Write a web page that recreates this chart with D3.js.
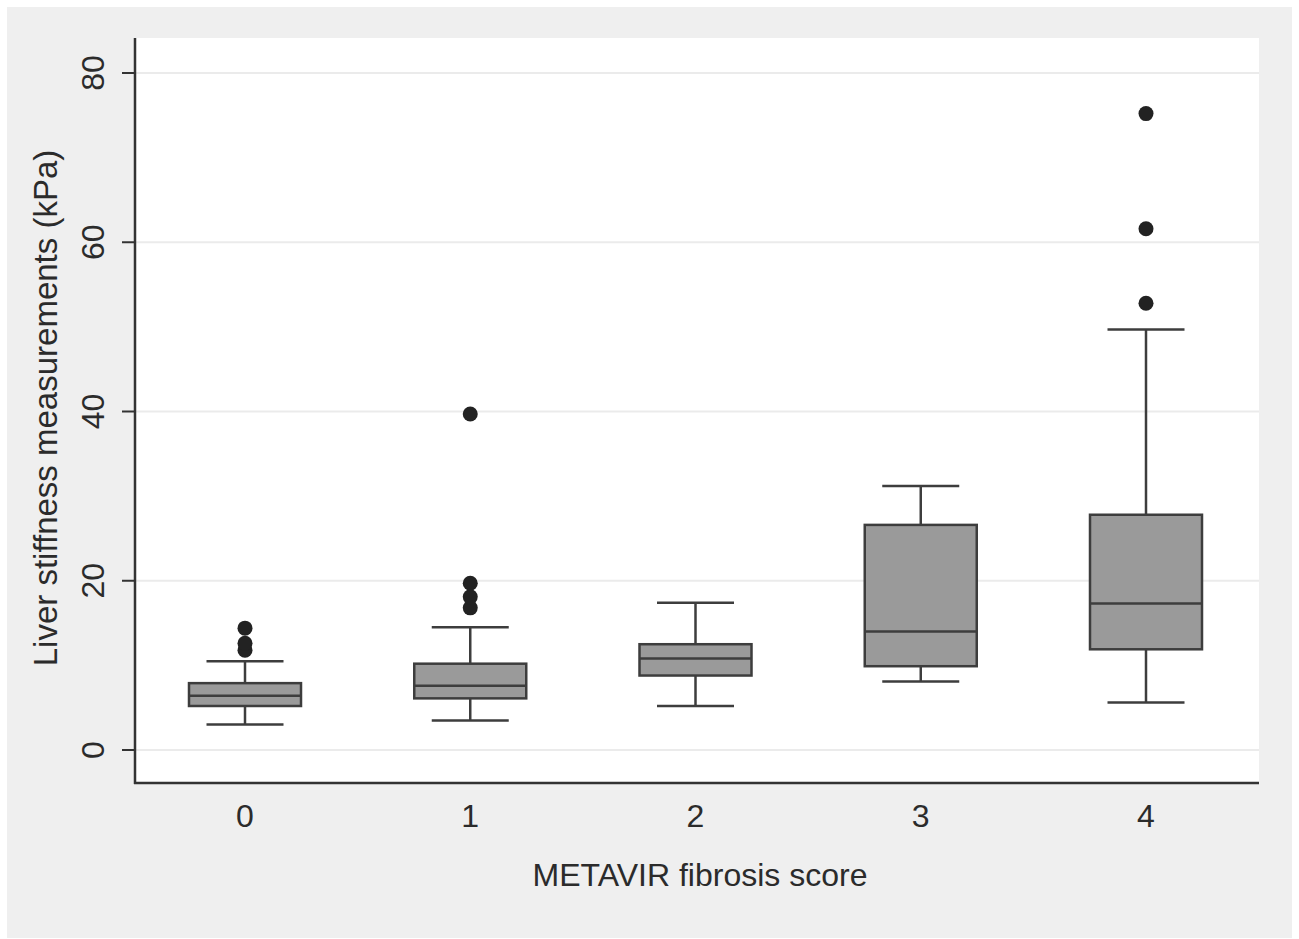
<!DOCTYPE html>
<html>
<head>
<meta charset="utf-8">
<script src="https://cdn.jsdelivr.net/npm/d3@7/dist/d3.min.js"></script>
<style>
  body { margin: 0; background: #fff; }
  text { font-family: "Liberation Sans", Arial, sans-serif; fill: #2b2b2b; }
</style>
</head>
<body>
<div id="chart"></div>
<script>
var categories = ["0", "1", "2", "3", "4"];
var whiskerLow = [3.0, 3.5, 5.2, 8.1, 5.6];
var q1 = [5.2, 6.1, 8.8, 9.9, 11.9];
var median = [6.4, 7.6, 10.8, 14.0, 17.3];
var q3 = [7.9, 10.2, 12.5, 26.6, 27.8];
var whiskerHigh = [10.5, 14.5, 17.4, 31.2, 49.7];
var outliers = [[11.8, 12.6, 14.4], [16.8, 18.1, 19.7, 39.7], [], [], [52.8, 61.6, 75.2]];
var yTicks = [0, 20, 40, 60, 80];

var w = 1299, h = 939;

var svg = d3.select("#chart").append("svg")
    .attr("width", w)
    .attr("height", h);

// outer gray panel and white plot region
svg.append("rect").attr("x", 7).attr("y", 7).attr("width", 1285).attr("height", 931).attr("fill", "#efefef");
svg.append("rect").attr("x", 135).attr("y", 38).attr("width", 1124).attr("height", 745).attr("fill", "#fff");

var x = d3.scalePoint().domain(categories).range([245, 1146]);
var y = d3.scaleLinear().domain([0, 80]).range([750, 73]);

var boxW = 112, capW = 77;

// grid
svg.selectAll("line.grid")
    .data(yTicks)
  .enter().append("line")
    .attr("class", "grid")
    .attr("x1", 136).attr("x2", 1259)
    .attr("y1", function(d) { return y(d); })
    .attr("y2", function(d) { return y(d); })
    .attr("stroke", "#ebebeb")
    .attr("stroke-width", 2);

var data = categories.map(function(c, i) {
  return {cat: c, lo: whiskerLow[i], q1: q1[i], med: median[i], q3: q3[i], hi: whiskerHigh[i], out: outliers[i]};
});

var g = svg.selectAll("g.box")
    .data(data)
  .enter().append("g")
    .attr("class", "box")
    .attr("transform", function(d) { return "translate(" + x(d.cat) + ",0)"; });

var lineCol = "#3d3d3d";

// whisker stems
g.append("line").attr("x1", 0).attr("x2", 0)
    .attr("y1", function(d) { return y(d.q3); }).attr("y2", function(d) { return y(d.hi); })
    .attr("stroke", lineCol).attr("stroke-width", 2.5);
g.append("line").attr("x1", 0).attr("x2", 0)
    .attr("y1", function(d) { return y(d.q1); }).attr("y2", function(d) { return y(d.lo); })
    .attr("stroke", lineCol).attr("stroke-width", 2.5);

// caps
g.append("line").attr("x1", -capW / 2).attr("x2", capW / 2)
    .attr("y1", function(d) { return y(d.hi); }).attr("y2", function(d) { return y(d.hi); })
    .attr("stroke", lineCol).attr("stroke-width", 2.5);
g.append("line").attr("x1", -capW / 2).attr("x2", capW / 2)
    .attr("y1", function(d) { return y(d.lo); }).attr("y2", function(d) { return y(d.lo); })
    .attr("stroke", lineCol).attr("stroke-width", 2.5);

// boxes
g.append("rect")
    .attr("x", -boxW / 2)
    .attr("width", boxW)
    .attr("y", function(d) { return y(d.q3); })
    .attr("height", function(d) { return y(d.q1) - y(d.q3); })
    .attr("fill", "#9a9a9a")
    .attr("stroke", lineCol)
    .attr("stroke-width", 2.5);

// medians
g.append("line").attr("x1", -boxW / 2).attr("x2", boxW / 2)
    .attr("y1", function(d) { return y(d.med); }).attr("y2", function(d) { return y(d.med); })
    .attr("stroke", lineCol).attr("stroke-width", 2.5);

// outside values
g.selectAll("circle")
    .data(function(d) { return d.out; })
  .enter().append("circle")
    .attr("cx", 0)
    .attr("cy", function(d) { return y(d); })
    .attr("r", 7.5)
    .attr("fill", "#222");

// axes lines
svg.append("line").attr("x1", 135).attr("x2", 135).attr("y1", 38).attr("y2", 784)
    .attr("stroke", "#333").attr("stroke-width", 2.5);
svg.append("line").attr("x1", 134).attr("x2", 1259).attr("y1", 783).attr("y2", 783)
    .attr("stroke", "#333").attr("stroke-width", 2.5);

// y ticks + labels
svg.selectAll("line.ytick")
    .data(yTicks)
  .enter().append("line")
    .attr("class", "ytick")
    .attr("x1", 122).attr("x2", 135)
    .attr("y1", function(d) { return y(d); })
    .attr("y2", function(d) { return y(d); })
    .attr("stroke", "#333").attr("stroke-width", 2);

svg.selectAll("text.ylab")
    .data(yTicks)
  .enter().append("text")
    .attr("class", "ylab")
    .attr("transform", function(d) { return "translate(104," + y(d) + ") rotate(-90)"; })
    .attr("text-anchor", "middle")
    .attr("font-size", 32)
    .text(function(d) { return d; });

// x labels
svg.selectAll("text.xlab")
    .data(categories)
  .enter().append("text")
    .attr("class", "xlab")
    .attr("x", function(d) { return x(d); })
    .attr("y", 827)
    .attr("text-anchor", "middle")
    .attr("font-size", 32)
    .text(function(d) { return d; });

// titles
svg.append("text")
    .attr("x", 700)
    .attr("y", 886)
    .attr("text-anchor", "middle")
    .attr("font-size", 32)
    .text("METAVIR fibrosis score");

svg.append("text")
    .attr("transform", "translate(57,408) rotate(-90)")
    .attr("text-anchor", "middle")
    .attr("font-size", 33)
    .text("Liver stiffness measurements (kPa)");
</script>
</body>
</html>
